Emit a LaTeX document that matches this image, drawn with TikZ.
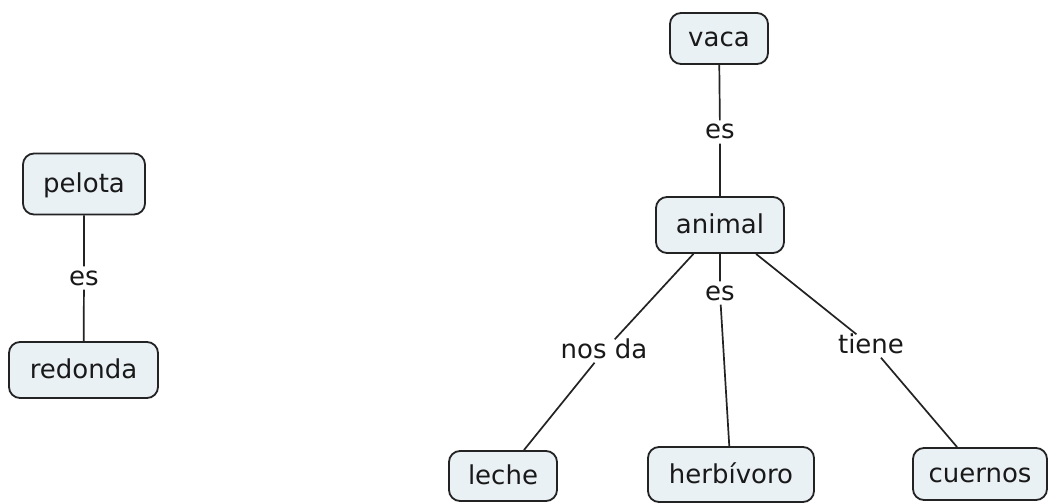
\documentclass[tikz,border=0pt]{standalone}
\usepackage{fontspec}
\setmainfont{DejaVu Sans}
\definecolor{conceptfill}{RGB}{234,241,244}
\definecolor{inkline}{RGB}{35,35,35}
\definecolor{inktext}{RGB}{25,25,25}
\begin{document}
\begin{tikzpicture}[x=1pt,y=-1pt,
  every node/.style={font=\fontsize{26}{30}\selectfont, text=inktext},
  concept/.style={draw=inkline, line width=1.8pt, fill=conceptfill,
    rounded corners=11pt, inner sep=0pt,
    text height=17pt, text depth=0pt},
  linkword/.style={inner sep=1.5pt, text height=17pt, text depth=3pt},
  link/.style={draw=inkline, line width=1.7pt}]
\useasboundingbox[fill=white] (0,0) rectangle (1050,503);

% concepts
\node[concept, minimum width=98pt,  minimum height=51pt] (vaca)   at (719,38.5) {vaca};
\node[concept, minimum width=128pt, minimum height=56pt] (animal) at (720,225)  {animal};
\node[concept, minimum width=122pt, minimum height=61pt] (pelota) at (84,184)   {pelota};
\node[concept, minimum width=149pt, minimum height=56pt] (redonda) at (83.5,370) {redonda};
\node[concept, minimum width=108pt, minimum height=50pt] (leche)  at (503,476)  {leche};
\node[concept, minimum width=166pt, minimum height=55pt] (herb)   at (731,474.5) {herbívoro};
\node[concept, minimum width=134pt, minimum height=52pt] (cuernos) at (980,474) {cuernos};

% linking phrases
\node[linkword] (l1) at (720,132) {es};
\node[linkword] (l2) at (84,278)  {es};
\node[linkword] (l3) at (604,351) {nos da};
\node[linkword] (l4) at (720,293) {es};
\node[linkword] (l5) at (871,346) {tiene};

% connections
\draw[link] (vaca) -- (l1) -- (animal);
\draw[link] (pelota) -- (l2) -- (redonda);
\draw[link] (animal) -- (l3) -- (leche);
\draw[link] (animal) -- (l4) -- (herb);
\draw[link] (animal) -- (l5) -- (cuernos);
\end{tikzpicture}
\end{document}
